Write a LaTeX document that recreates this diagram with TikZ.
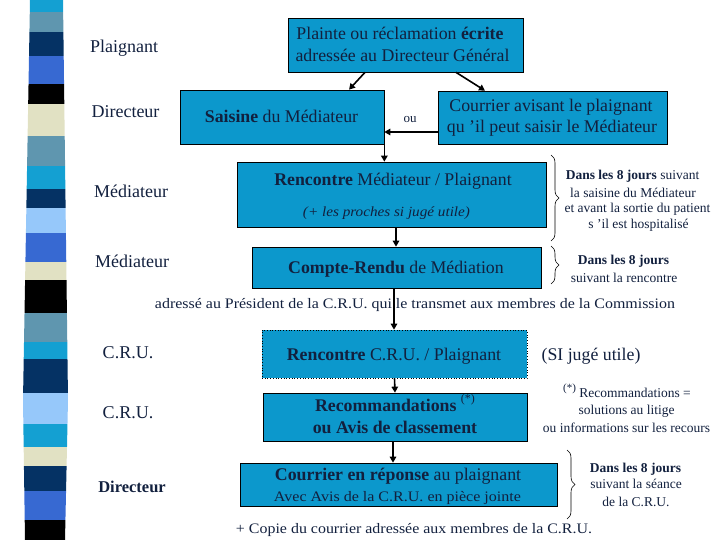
\documentclass[tikz,border=0pt]{standalone}
\usepackage{fontspec}
\setmainfont{Liberation Serif}
\usepackage{graphicx}
\usetikzlibrary{arrows.meta,decorations.pathreplacing,calc}
\definecolor{boxblue}{RGB}{12,152,204}
\definecolor{navy}{RGB}{18,32,62}
\definecolor{sCyan}{RGB}{20,160,210}
\definecolor{sSlate}{RGB}{95,150,175}
\definecolor{sNavy}{RGB}{5,50,100}
\definecolor{sRoyal}{RGB}{55,105,210}
\definecolor{sBeige}{RGB}{225,225,195}
\definecolor{sLight}{RGB}{150,200,250}
\newcommand{\fitto}[2]{\resizebox{#1}{\height}{#2}}
\begin{document}
\begin{tikzpicture}[x=1pt,y=-1pt,
  box/.style={draw=black, line width=0.7pt, fill=boxblue, inner sep=0pt},
  t/.style={inner sep=0pt, text height=1.0em, text depth=0pt, text=navy},
  big/.style={font=\fontsize{17.8}{21}\selectfont},
  lab/.style={font=\fontsize{18}{21}\selectfont},
  small/.style={font=\fontsize{13.5}{16}\selectfont},
  arr/.style={-{Triangle[length=6pt,width=6.5pt]}, line width=1.6pt},
  brc/.style={decorate, decoration={brace, amplitude=8pt}, line width=0.6pt}]
\useasboundingbox (0,0) rectangle (720,540);
% left stripe
\begin{scope}
\clip (30,0) -- (63,0) -- (68,400) -- (65,540) -- (25,540) -- (23,400) -- cycle;
\foreach \ya/\yb/\c in {0/12/sCyan,12/32/sSlate,32/56/sNavy,56/84/sRoyal,84/104/black,104/136/sBeige,136/166/sSlate,166/189/sCyan,189/208/sNavy,208/233/sLight,233/262/sRoyal,262/280/sBeige,280/313/black,313/342/sSlate,342/359/sCyan,359/393/sNavy,393/424/sLight,424/447/sCyan,447/466/sBeige,466/491/sNavy,491/520/sRoyal,520/540/black}
  \fill[\c] (0,\ya) rectangle (100,\yb);
\end{scope}
% left labels
\node[t,lab] (lPlaignant) at (124,48) {Plaignant};
\node[t,lab] (lDir1) at (125.5,113) {Directeur};
\node[t,lab] (lMed1) at (131,192) {Médiateur};
\node[t,lab] (lMed2) at (132,262) {Médiateur};
\node[t,lab] (lCRU1) at (128,353) {C.R.U.};
\node[t,lab] (lCRU2) at (128,413) {C.R.U.};
\node[t,font=\fontsize{16.5}{20}\selectfont\bfseries] (lDir2) at (132,487) {Directeur};
% boxes
\node[box, minimum width=235pt, minimum height=54pt] (plainte) at (405.5,45) {};
\node[box, minimum width=204pt, minimum height=54pt] (saisine) at (282,117) {};
\node[box, minimum width=229pt, minimum height=53pt] (avis) at (552.5,117.5) {};
\node[box, minimum width=309pt, minimum height=65pt] (renc) at (391.5,194.5) {};
\node[box, minimum width=289pt, minimum height=41pt] (cr) at (396.5,267.5) {};
\node[box, dotted, minimum width=265pt, minimum height=48pt] (rcru) at (394.5,354) {};
\node[box, minimum width=264pt, minimum height=48pt] (reco) at (395,417) {};
\node[box, minimum width=317pt, minimum height=43pt] (cour) at (398.5,484.5) {};
% box texts
\node[t,big] (plainteA) at (400,35) {Plainte ou réclamation \textbf{écrite}};
\node[t,big] (plainteB) at (402.5,57) {adressée au Directeur Général};
\node[t,big] (saisineT) at (281.5,118) {\textbf{Saisine} du Médiateur};
\node[t,big] (avisA) at (551,107) {Courrier avisant le plaignant};
\node[t,big] (avisB) at (552,128) {qu ’il peut saisir le Médiateur};
\node[t,font=\fontsize{13}{15}\selectfont] (ou) at (410,118) {ou};
\node[t,big] (rencA) at (393,181) {\textbf{Rencontre} Médiateur / Plaignant};
\node[t,font=\fontsize{14}{16}\selectfont\itshape] (rencB) at (386.5,211) {\fitto{167pt}{(+ les proches si jugé utile)}};
\node[t,big] (crT) at (396,268) {\textbf{Compte-Rendu} de Médiation};
\node[t,font=\fontsize{14.5}{17}\selectfont] (adresse) at (415,303) {\fitto{520pt}{adressé au Président de la C.R.U. qui le transmet aux membres de la Commission}};
\node[t,big] (rcruT) at (394,355) {\textbf{Rencontre} C.R.U. / Plaignant};
\node[t,big] (recoA) at (395,406) {\textbf{Recommandations} \raisebox{0.45em}{\fontsize{12}{14}\selectfont(*)}};
\node[t,big] (recoB) at (395,428) {\textbf{ou Avis de classement}};
\node[t,big] (courA) at (398,475) {\textbf{Courrier en réponse} au plaignant};
\node[t,font=\fontsize{14.5}{17}\selectfont] (courB) at (397.5,496) {\fitto{247pt}{Avec Avis de la C.R.U. en pièce jointe}};
\node[t,font=\fontsize{14.5}{17}\selectfont] (copie) at (414,528) {\fitto{356pt}{+ Copie du courrier adressée aux membres de la C.R.U.}};
% arrows
\draw[arr] ([xshift=-40.5pt]plainte.south) -- ([xshift=67pt]saisine.north);
\draw[arr] ([xshift=50.5pt]plainte.south) -- ([xshift=-67.5pt]avis.north);
\draw[arr] ([yshift=-14.5pt]avis.west) coordinate (o1) -- (o1 -| saisine.east);
\draw[arr] (saisine.south east) -- (saisine.south east |- renc.north);
\draw[arr] ([xshift=4.5pt]renc.south) coordinate (o2) -- (o2 |- cr.north);
\draw[arr] ([xshift=-2.5pt]cr.south) coordinate (o3) -- (o3 |- rcru.north);
\draw[arr] (rcru.south) -- (reco.north);
\draw[arr] ([xshift=-2pt]reco.south) coordinate (o4) -- (o4 |- cour.north);
% braces
\coordinate (b1a) at (551,155); \coordinate (b1b) at (551,241);
\coordinate (b2a) at (551,246); \coordinate (b2b) at (551,284);
\coordinate (b3a) at (567,450); \coordinate (b3b) at (567,519);
\draw[brc] (b1a) -- (b1b);
\draw[brc] (b2a) -- (b2b);
\draw[brc] (b3a) -- (b3b);
% right texts
\node[t,small] (r1a) at (632.5,175) {\textbf{Dans les 8 jours} suivant};
\node[t,small] (r1b) at (633,192) {la saisine du Médiateur};
\node[t,small] (r1c) at (637.5,208) {et avant la sortie du patient};
\node[t,small] (r1d) at (638.5,224) {s ’il est hospitalisé};
\node[t,small] (r2a) at (623.5,259) {\textbf{Dans les 8 jours}};
\node[t,small] (r2b) at (624,277) {suivant la rencontre};
\node[t,big] (si) at (591,355) {(SI jugé utile)};
\node[t,small] (r3a) at (627,392) {\raisebox{0.4em}{\fontsize{11}{13}\selectfont(*)} Recommandations =};
\node[t,small] (r3b) at (626.5,409) {solutions au litige};
\node[t,small] (r3c) at (626.5,427) {ou informations sur les recours};
\node[t,small] (r4a) at (635.5,467) {\textbf{Dans les 8 jours}};
\node[t,small] (r4b) at (636,483) {suivant la séance};
\node[t,small] (r4c) at (636,501) {de la C.R.U.};
\end{tikzpicture}
\end{document}
